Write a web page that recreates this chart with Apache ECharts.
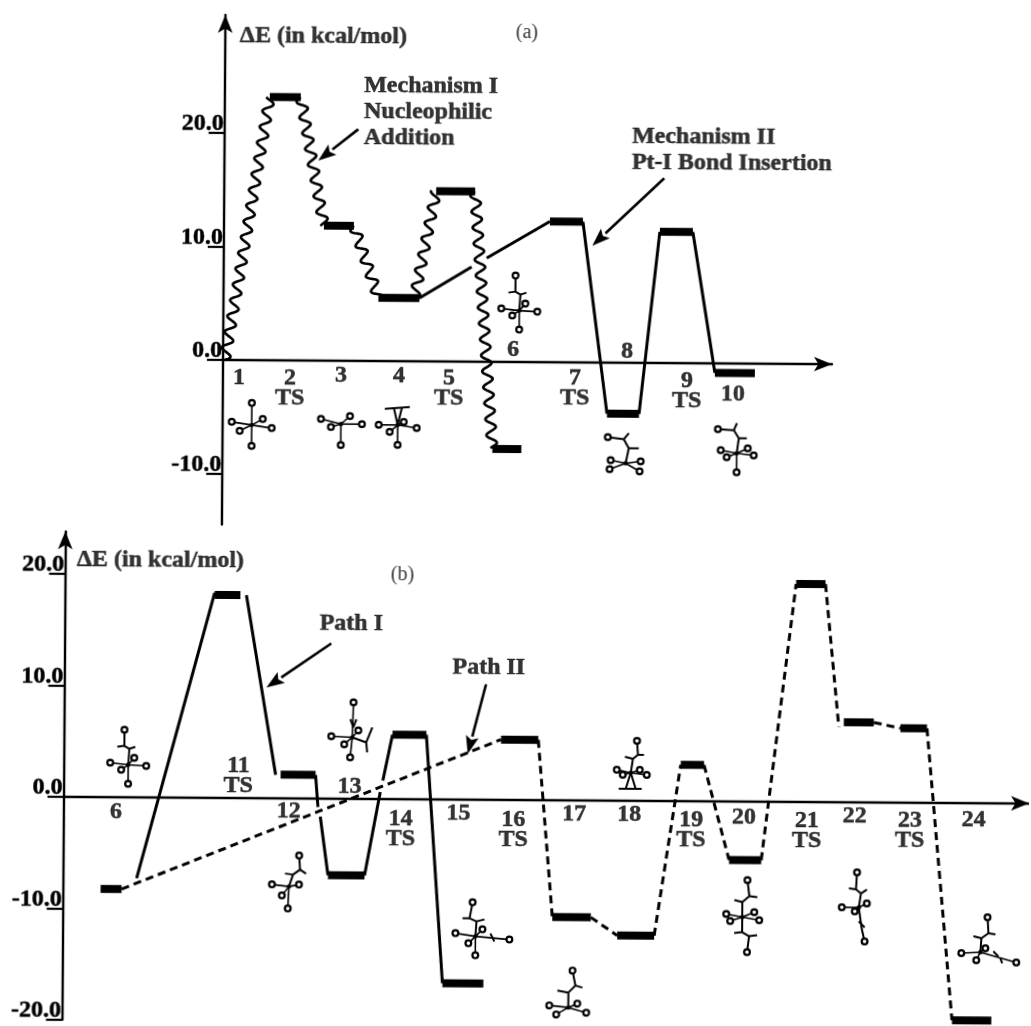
<!DOCTYPE html>
<html><head><meta charset="utf-8">
<style>html,body{margin:0;padding:0;background:#fff;overflow:hidden}
#c{width:1031px;height:1026px;transform:rotate(0.4deg);transform-origin:515px 513px}</style>
<script src="https://cdn.jsdelivr.net/npm/echarts@6/dist/echarts.min.js"></script>
</head><body><div id="c"></div>
<script>
// Panel (a): reaction-coordinate x, energy in kcal/mol
const ticksA=[-10,0,10,20];
const levelsA=[[45,76,23.2],[100,130,11.9],[155,196,5.57],[212,251,15.0],[270,299,-7.67],[326,359,12.4],[384.4,416.4,-4.5],[436,469,11.56],[492,532,-0.83]];
const wavesA=[[2,0,45,23.2],[76,23.2,100,11.9],[130,11.9,155,5.57],[191,5.57,212,15.0],[251,15.0,270,-7.67]];
const solidA=[[[196,5.57],[248,8.35]],[[263,9.15],[326,12.4]],[[359,12.4],[384.4,-4.5]],[[416.4,-4.5],[436,11.56]],[[469,11.56],[492,-0.83]]];
const stepsA=[[16,-1.58,"1"],[67,-2.43,"2\nTS"],[118,-1.34,"3"],[176,-1.3,"4"],[226,-2.33,"5\nTS"],[290,1.06,"6"],[352,-2.25,"7\nTS"],[404,0.95,"8"],[464,-2.44,"9\nTS"],[510,-2.68,"10"]];
const notesA=[[14.7,28.56,"ΔE (in kcal/mol)"],[139.3,22.0,"Mechanism I\nNucleophilic\nAddition"],[407.5,18.8,"Mechanism II\nPt-I Bond Insertion"]];
const captionA=[[301.7,29.0,"(a)"]];
const arrowsA=[[133.7,20.41,93.9,17.62],[440,16.28,368.5,10.3]];
const molsA=[[29.2,-5.71,"m1"],[118.4,-5.57,"m3"],[175.2,-5.62,"m4"],[296,4.53,"m6"],[403.4,-8.85,"m8"],[514.4,-7.9,"m10"]];
// Panel (b)
const ticksB=[-20,-10,0,10,20];
const levelsB=[[37.8,58.8,-8.25],[150,175.8,18.2],[217.3,252.3,2.11],[265.4,302,-6.88],[329.1,363,5.78],[380.8,421.8,-16.5],[437.8,475.1,5.4],[490.4,529,-10.5],[555.5,592.5,-12.1],[618,641.3,3.25],[667,699.2,-5.26],[732.3,761.7,19.55],[781,811,7.17],[837.7,864.3,6.67],[891.4,930.8,-19.5]];
const solidB=[[[73.8,-7.28],[150,18.4]],[[181.8,18.2],[212.3,2.1]],[[252.3,2.11],[254.9,-0.76]],[[257.3,-1.63],[265.4,-6.88]],[[302,-6.88],[317.2,0.62]],[[319.7,1.65],[329.1,5.78]],[[363,5.78],[380.8,-16.5]]];
const dashedB=[[[58.8,-8.25],[437.8,5.4]],[[475.1,5.4],[490.4,-10.5]],[[529,-10.5],[555.5,-12.1]],[[592.5,-12.1],[618,3.25]],[[641.3,3.25],[667,-5.26]],[[699.2,-5.26],[732.3,19.55]],[[761.7,19.55],[776,6.75]],[[811,7.17],[837.7,6.67]],[[864.3,6.67],[891.4,-19.5]]];
const stepsB=[[52.6,-1.3,"6"],[175,1.98,"11\nTS"],[225.6,-1.2,"12"],[286.4,1.07,"13"],[337.7,-2.69,"14\nTS"],[395.6,-1.27,"15"],[450.7,-2.71,"16\nTS"],[511.6,-1.29,"17"],[566.6,-1.25,"18"],[628.7,-2.64,"19\nTS"],[681.6,-1.45,"20"],[744.7,-2.57,"21\nTS"],[792.6,-1.29,"22"],[847.7,-2.5,"23\nTS"],[911.6,-1.48,"24"]];
const notesB=[[11.8,21.26,"ΔE (in kcal/mol)"],[255.3,15.7,"Path I"],[388.6,11.85,"Path II"]];
const captionB=[[338,20.1,"(b)"]];
const arrowsB=[[267.1,13.92,202.4,9.92],[422.4,10.35,404.5,4.09]];
const molsB=[[64.6,2.9,"m6"],[226.4,-7.92,"m12"],[288.8,5.51,"m13"],[413.5,-12.27,"m15"],[507,-18.6,"m17"],[568,2.5,"m18"],[680.6,-10.38,"m20"],[797.3,-9.44,"m22"],[919.3,-13.38,"m24"]];

// Ball-and-stick glyph outlines drawn round each structure's anchor.
// a: atoms, b: extra bonds, s: atoms reached through a bond chain rather than a spoke from the centre
const glyphs={
 m1:{a:[[0,-22],[-20,-3],[20,3],[0,21],[11,-6],[-12,6]],b:[]},
 m3:{a:[[-20,-5],[21,0],[0,21],[9,-8],[-10,3]],b:[]},
 m4:{a:[[-19,0],[19,3],[0,20],[6,-3],[-8,7]],b:[[-13,-16,12,-18],[0,0,-4,-17],[0,0,4,-17]]},
 m6:{s:[0],a:[[-4,-35],[-18,-2],[18,1],[0,19],[6,-7],[-7,5]],b:[[0,0,1,-16],[1,-16,-4,-19],[-4,-19,-4,-35],[1,-16,7,-18],[-4,-19,-11,-18]]},
 m8:{s:[0],a:[[-18,-26],[-15,-3],[15,-2],[-16,6],[14,8]],b:[[0,0,3,-15],[3,-15,-2,-24],[-2,-24,-18,-26],[-2,-24,3,-30],[3,-15,13,-15]]},
 m10:{s:[0],a:[[-19,-24],[-16,-3],[17,2],[0,19],[11,-5],[-10,4]],b:[[0,0,2,-15],[2,-15,-3,-23],[-3,-23,-19,-24],[-3,-23,0,-30],[2,-15,10,-15]]},
 m12:{s:[0],a:[[10,-31],[-17,-2],[10,-2],[-1,22],[-7,9]],b:[[0,0,4,-12],[4,-12,-4,-13],[4,-12,11,-17],[11,-17,10,-31],[11,-17,17,-13]]},
 m13:{a:[[1,-35],[-21,-1],[6,-7],[-8,7],[-2,20]],b:[[0,0,14,5],[14,5,20,-10],[14,5,15,15],[-2,-18,1,-10],[4,-18,1,-10]]},
 m15:{s:[0],a:[[-3,-34],[-20,-3],[34,3],[0,19],[7,-7],[-7,7]],b:[[0,0,1,-15],[1,-15,-6,-18],[-6,-18,-3,-34],[-6,-18,-13,-18],[1,-15,9,-17],[15,-3,19,5]]},
 m17:{s:[0],a:[[4,-37],[-19,-2],[9,-4],[-12,7],[18,5]],b:[[0,0,0,-15],[0,-15,-11,-17],[0,-15,7,-22],[7,-22,4,-37],[7,-22,14,-20]]},
 m18:{s:[0],a:[[6,-32],[-14,-3],[16,2],[-8,2],[9,-3]],b:[[0,0,2,-14],[2,-14,-6,-16],[2,-14,7,-18],[7,-18,6,-32],[7,-18,13,-18],[0,0,-5,16],[0,0,5,16],[-12,16,11,16]]},
 m20:{s:[0,5],a:[[5,-37],[-16,-3],[17,3],[12,-5],[-12,4],[5,35]],b:[[0,0,0,-15],[0,-15,-8,-17],[0,-15,7,-21],[7,-21,5,-37],[7,-21,15,-20],[0,0,0,15],[0,15,-8,16],[0,15,7,19],[7,19,5,35],[7,19,15,18]]},
 m22:{s:[0,4],a:[[-2,-35],[-17,0],[8,-4],[-4,4],[6,34]],b:[[0,0,2,-14],[2,-14,-3,-18],[-3,-18,-2,-35],[-3,-18,-10,-19],[2,-14,8,-18],[0,0,3,21],[3,21,6,34],[0,14,6,20]]},
 m24:{s:[0],a:[[7,-35],[-19,1],[36,10],[5,-4],[-4,8]],b:[[0,0,1,-14],[1,-14,-7,-16],[1,-14,8,-19],[8,-19,7,-35],[8,-19,15,-18],[13,-1,18,4],[20,6,22,11]]}
};

const FONT='"Liberation Serif"';
const common={animation:false,silent:true};
function segSeries(segs,i,width,dash){return segs.map(s=>({...common,type:'line',xAxisIndex:i,yAxisIndex:i,data:s,symbol:'none',clip:false,
  lineStyle:{color:'#000',width:width,type:dash?[8,5]:'solid',cap:'butt'}}));}
function levelSeries(levels,i){return segSeries(levels.map(l=>[[l[0],l[2]],[l[1],l[2]]]),i,8,false);}
function waveSeries(waves,i){return {...common,type:'custom',xAxisIndex:i,yAxisIndex:i,clip:false,encode:{x:[0,2],y:[1,3]},data:waves,
  renderItem(p,api){
    const a=api.coord([api.value(0),api.value(1)]),b=api.coord([api.value(2),api.value(3)]);
    const dx=b[0]-a[0],dy=b[1]-a[1],len=Math.hypot(dx,dy),nx=-dy/len,ny=dx/len,pts=[];
    for(let s=0;s<=len;s+=1){const o=5*Math.sin(2*Math.PI*s/16);pts.push([a[0]+dx*s/len+nx*o,a[1]+dy*s/len+ny*o]);}
    return {type:'polyline',shape:{points:pts},style:{stroke:'#000',lineWidth:2.6,fill:null}};
  }};}
function arrowSeries(arrows,i){return {...common,type:'custom',xAxisIndex:i,yAxisIndex:i,clip:false,encode:{x:[0,2],y:[1,3]},data:arrows,
  renderItem(p,api){
    const a=api.coord([api.value(0),api.value(1)]),b=api.coord([api.value(2),api.value(3)]);
    const dx=b[0]-a[0],dy=b[1]-a[1],len=Math.hypot(dx,dy),ux=dx/len,uy=dy/len,L=18,W=6.5;
    const base=[b[0]-ux*L,b[1]-uy*L];
    return {type:'group',children:[
      {type:'line',shape:{x1:a[0],y1:a[1],x2:base[0],y2:base[1]},style:{stroke:'#000',lineWidth:2.6}},
      {type:'polygon',shape:{points:[b,[base[0]-uy*W,base[1]+ux*W],[b[0]-ux*L*.8,b[1]-uy*L*.8],[base[0]+uy*W,base[1]-ux*W]]},style:{fill:'#000'}}
    ]};
  }};}
function molSeries(mols,i){return {...common,type:'custom',xAxisIndex:i,yAxisIndex:i,clip:false,encode:{x:0,y:1},data:mols.map(m=>[m[0],m[1]]),
  renderItem(p,api){
    const c=api.coord([api.value(0),api.value(1)]),g=glyphs[mols[p.dataIndex][2]],kids=[],skip=g.s||[];
    g.b.forEach(b=>kids.push({type:'line',shape:{x1:c[0]+b[0],y1:c[1]+b[1],x2:c[0]+b[2],y2:c[1]+b[3]},style:{stroke:'#000',lineWidth:2}}));
    g.a.forEach((a,k)=>{if(!skip.includes(k))kids.push({type:'line',shape:{x1:c[0],y1:c[1],x2:c[0]+a[0],y2:c[1]+a[1]},style:{stroke:'#000',lineWidth:1.6}});});
    g.a.forEach(a=>{kids.push({type:'circle',shape:{cx:c[0]+a[0],cy:c[1]+a[1],r:2.9},style:{fill:'#fff',stroke:'#000',lineWidth:2.2}});});
    kids.push({type:'circle',shape:{cx:c[0],cy:c[1],r:2.2},style:{fill:'#000'}});
    return {type:'group',children:kids};
  }};}
const heavy={color:'#000',textBorderColor:'#000',textBorderWidth:0.5};
function textSeries(items,i,opt){return {...common,type:'scatter',xAxisIndex:i,yAxisIndex:i,symbolSize:0,clip:false,
  data:items.map(t=>({value:[t[0],t[1]],name:t[2]})),
  label:{show:true,formatter:'{b}',fontFamily:FONT,...opt}};}

const stepLabel={...heavy,position:'inside',fontSize:24,fontWeight:'bold',lineHeight:20,align:'center',verticalAlign:'middle'};
const noteLabel={...heavy,position:'right',distance:0,fontSize:24,fontWeight:'bold',lineHeight:26,align:'left',verticalAlign:'middle'};
const capLabel={color:'#000',position:'inside',fontSize:20,align:'center',verticalAlign:'middle'};
function yAxis(min,max,ticks,i){return {type:'value',gridIndex:i,min,max,splitLine:{show:false},
  axisLine:{show:true,onZero:false,symbol:['none','arrow'],symbolSize:[11,18],lineStyle:{color:'#000',width:2.4}},
  axisTick:{show:true,customValues:ticks,length:16,lineStyle:{color:'#000',width:2.2}},
  axisLabel:{show:true,customValues:ticks,margin:1,verticalAlign:'bottom',lineHeight:18,fontFamily:FONT,fontSize:24,fontWeight:'bold',...heavy,formatter:v=>Number(v).toFixed(1)}};}
function xAxis(max,i){return {type:'value',gridIndex:i,min:0,max,splitLine:{show:false},axisTick:{show:false},axisLabel:{show:false},
  axisLine:{show:true,onZero:true,symbol:['none','arrow'],symbolSize:[11,18],lineStyle:{color:'#000',width:2.4}}};}

const chart=echarts.init(document.getElementById('c'),null,{renderer:'canvas'});
chart.setOption({backgroundColor:'#fff',animation:false,
  grid:[{left:221.9,top:17,width:609,height:509.6},{left:65.5,top:534.6,width:967,height:490.6}],
  xAxis:[xAxis(609,0),xAxis(967,1)],
  yAxis:[yAxis(-14.5,30.4,ticksA,0),yAxis(-20,23.8,ticksB,1)],
  series:[
    ...levelSeries(levelsA,0),waveSeries(wavesA,0),...segSeries(solidA,0,3),
    arrowSeries(arrowsA,0),molSeries(molsA,0),
    textSeries(stepsA,0,stepLabel),textSeries(notesA,0,noteLabel),textSeries(captionA,0,capLabel),
    ...levelSeries(levelsB,1),...segSeries(solidB,1,3),...segSeries(dashedB,1,3,true),
    arrowSeries(arrowsB,1),molSeries(molsB,1),
    textSeries(stepsB,1,stepLabel),textSeries(notesB,1,noteLabel),textSeries(captionB,1,capLabel)
  ]});
</script></body></html>
